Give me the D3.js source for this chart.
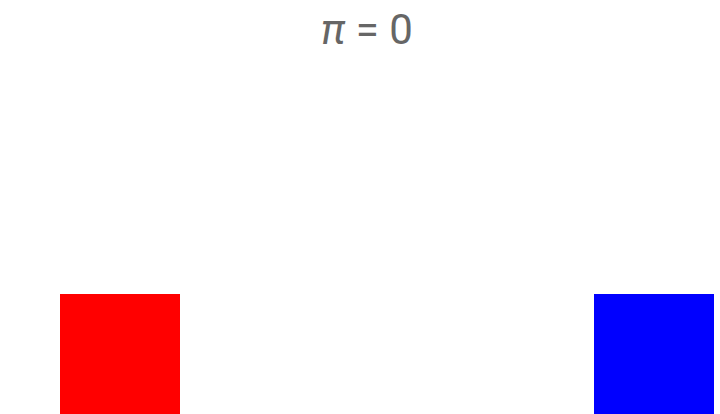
<!DOCTYPE html>
<html><head><meta charset="utf-8">
<script src="https://cdn.jsdelivr.net/npm/d3@7"></script>
<style>body{margin:0;background:#fff}svg{display:block}</style>
</head><body>
<svg id="c" width="720" height="414"></svg>
<script>
const blockNames = ["left", "right"];
const blockPositions = [60, 594];
const blockSizes = [120, 120];
const blockColors = ["#ff0000", "#0000ff"];
const collisionCount = 0;

const W = 720, H = 414;
const svg = d3.select("#c");
const x = d3.scaleLinear().domain([0, W]).range([0, W]);
const y = d3.scaleLinear().domain([0, H]).range([H, 0]);

svg.selectAll("rect.block").data(blockNames).enter().append("rect")
  .attr("class", "block")
  .attr("x", (d, i) => x(blockPositions[i]))
  .attr("y", (d, i) => y(blockSizes[i]))
  .attr("width", (d, i) => x(blockSizes[i]) - x(0))
  .attr("height", (d, i) => y(0) - y(blockSizes[i]))
  .attr("fill", (d, i) => blockColors[i]);

const t = svg.append("text")
  .attr("x", 367).attr("y", 44)
  .attr("text-anchor", "middle")
  .attr("font-family", "Roboto, 'Noto Sans', sans-serif")
  .attr("font-size", 42)
  .attr("fill", "#666");
t.append("tspan").attr("font-style", "italic").text("π");
t.append("tspan").text(" = " + collisionCount);
</script>
</body></html>
